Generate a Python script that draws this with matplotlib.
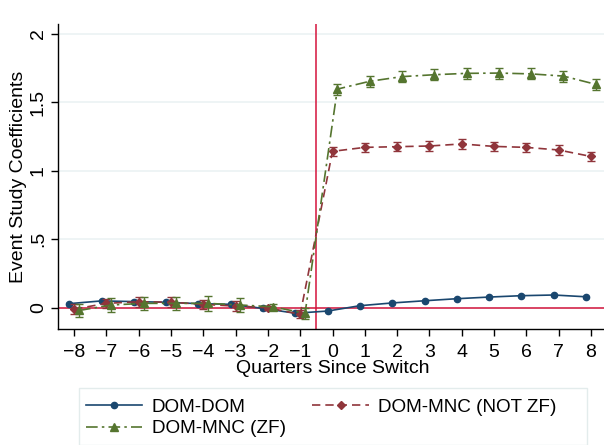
import numpy as np
import matplotlib.pyplot as plt
from matplotlib.lines import Line2D
from matplotlib.patches import Rectangle

plt.rcParams['font.family'] = ['Liberation Sans', 'DejaVu Sans']

# event time (quarters since switch)
quarters = np.arange(-8, 9)

# DOM-DOM coefficients
dom_dom = [0.030, 0.050, 0.045, 0.040, 0.030, 0.025, -0.005, -0.040, -0.024,
           0.015, 0.035, 0.051, 0.066, 0.078, 0.088, 0.093, 0.080]
dom_dom_err = [0.008] * 17

# DOM-MNC (NOT ZF) coefficients
not_zf = [-0.010, 0.032, 0.044, 0.040, 0.025, 0.012, 0.000, -0.048, 1.141,
          1.170, 1.175, 1.180, 1.195, 1.177, 1.170, 1.151, 1.104]
not_zf_err = [0.037, 0.035, 0.035, 0.035, 0.035, 0.035, 0.015, 0.030, 0.035,
              0.035, 0.035, 0.035, 0.035, 0.035, 0.035, 0.035, 0.035]

# DOM-MNC (ZF) coefficients
zf = [-0.020, 0.020, 0.032, 0.032, 0.032, 0.020, 0.007, -0.040, 1.595,
      1.652, 1.686, 1.700, 1.710, 1.712, 1.706, 1.690, 1.630]
zf_err = [0.045, 0.050, 0.050, 0.050, 0.055, 0.050, 0.020, 0.040, 0.040,
          0.040, 0.040, 0.040, 0.040, 0.040, 0.040, 0.040, 0.040]

yticks = [0, 0.5, 1, 1.5, 2]
ytick_labels = ['0', '.5', '1', '1.5', '2']

navy = '#1a476f'
maroon = '#90353b'
green = '#55752f'
red = '#d4143c'
grid_col = '#e9f1f2'

fig = plt.figure(figsize=(6.04, 4.45), dpi=100)
ax = fig.add_axes([58 / 604, (445 - 329) / 445, 549 / 604, 305 / 445])

# --- reference lines ---
ax.axhline(0, color=red, lw=1.1, zorder=1)
ax.axvline(-0.5, color=red, lw=1.1, zorder=1)

# --- series ---
ax.errorbar(quarters - 0.15, dom_dom, yerr=dom_dom_err, color=navy, ecolor=navy,
            marker='o', ms=4.5, lw=1.2, ls='-', capsize=2, elinewidth=0.8, zorder=3)
ax.errorbar(quarters, not_zf, yerr=not_zf_err, color=maroon, ecolor=maroon,
            marker='D', ms=4, lw=1.2, ls=(0, (5, 3)), capsize=3.2, elinewidth=1, zorder=4)
ax.errorbar(quarters + 0.15, zf, yerr=zf_err, color=green, ecolor=green,
            marker='^', ms=5.5, lw=1.2, ls=(0, (7, 2.5, 1.5, 2.5)), capsize=3.2,
            elinewidth=1, zorder=5)

# --- axes styling ---
ax.set_xlim(-8.5, 8.5)
ax.set_ylim(-0.155, 2.07)
ax.set_xticks(quarters)
ax.set_yticks(yticks)
ax.set_yticklabels(ytick_labels, rotation=90, va='center')
ax.tick_params(axis='both', labelsize=14, length=5, width=1, color='black')
ax.tick_params(axis='y', pad=3)
ax.tick_params(axis='x', pad=6)
ax.grid(axis='y', color=grid_col, lw=1.1)
ax.set_axisbelow(True)
for side in ['top', 'right']:
    ax.spines[side].set_visible(False)
ax.spines['left'].set_linewidth(1.0)
ax.spines['bottom'].set_linewidth(1.0)
ax.set_xlabel('Quarters Since Switch', fontsize=14, labelpad=-1)
ax.set_ylabel('Event Study Coefficients', fontsize=14, labelpad=2)

# --- legend ---
handles = [
    Line2D([], [], color=navy, marker='o', ms=4.5, lw=1.2, ls='-'),
    Line2D([], [], color=green, marker='^', ms=5.5, lw=1.2, ls=(0, (7, 2.5, 1.5, 2.5))),
    Line2D([], [], color=maroon, marker='D', ms=4, lw=1.2, ls=(0, (5, 3))),
]
labels = ['DOM-DOM', 'DOM-MNC (ZF)', 'DOM-MNC (NOT ZF)']
leg = fig.legend(handles, labels, loc='upper left',
                 bbox_to_anchor=(80 / 604, 1 - 393 / 445), borderaxespad=0,
                 ncol=2, fontsize=13.6, frameon=False, handlelength=3.0,
                 columnspacing=1.4, labelspacing=0.22, borderpad=0.3, numpoints=1,
                 handletextpad=0.5)
# legend box drawn separately so it spans the full width like the original
fig.patches.append(Rectangle((79 / 604, 0), 508 / 604, 1 - 388 / 445,
                             transform=fig.transFigure, fill=False,
                             edgecolor='#e3ecec', lw=1))

fig.savefig('out.png', dpi=100)
